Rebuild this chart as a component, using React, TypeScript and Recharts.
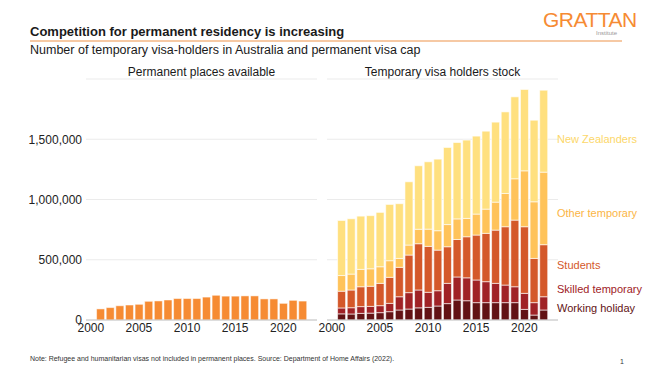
import { BarChart, Bar, XAxis, YAxis, CartesianGrid } from 'recharts';

const years = [
  2001, 2002, 2003, 2004, 2005, 2006, 2007, 2008, 2009, 2010, 2011,
  2012, 2013, 2014, 2015, 2016, 2017, 2018, 2019, 2020, 2021, 2022,
];
const axisYears = [2000, ...years, 2023];

// permanent migration program places
const permanentPlaces = [
  92000, 103000, 118000, 124000, 130000, 155000, 158000, 166000, 178000, 178000, 178000,
  190000, 205000, 198000, 198000, 200000, 200000, 175000, 175000, 138000, 163000, 157000,
];

// temporary visa holders stock, by visa type
const workingHoliday = [
  51000, 50000, 55000, 57000, 61000, 69000, 83000, 91000, 101000, 105000, 116000,
  136000, 166000, 160000, 144000, 144000, 144000, 144000, 144000, 88000, 41000, 83000,
];
const skilledTemporary = [
  49000, 52000, 56000, 56000, 58000, 69000, 110000, 136000, 148000, 125000, 127000,
  168000, 191000, 190000, 188000, 174000, 160000, 146000, 132000, 133000, 103000, 110000,
];
const students = [
  139000, 147000, 165000, 167000, 185000, 216000, 244000, 312000, 384000, 381000, 337000,
  304000, 311000, 341000, 373000, 401000, 442000, 484000, 553000, 553000, 367000, 432000,
];
const otherTemporary = [
  130000, 132000, 144000, 145000, 138000, 138000, 74000, 83000, 120000, 143000, 161000,
  184000, 171000, 152000, 174000, 201000, 232000, 276000, 343000, 464000, 470000, 602000,
];
const newZealanders = [
  457000, 459000, 442000, 441000, 451000, 467000, 454000, 525000, 527000, 559000, 594000,
  640000, 634000, 650000, 647000, 647000, 664000, 677000, 680000, 675000, 677000, 680000,
];

const yTicks = [0, 500000, 1000000, 1500000];

const series = [
  { key: 'wh', name: 'Working holiday', color: '#621214', text: '#621214', values: workingHoliday, labelY: 309 },
  { key: 'sk', name: 'Skilled temporary', color: '#A02226', text: '#A02226', values: skilledTemporary, labelY: 290 },
  { key: 'st', name: 'Students', color: '#D4582A', text: '#D4582A', values: students, labelY: 266 },
  { key: 'ot', name: 'Other temporary', color: '#FFC35A', text: '#FBB545', values: otherTemporary, labelY: 214 },
  { key: 'nz', name: 'New Zealanders', color: '#FFE07F', text: '#FCD769', values: newZealanders, labelY: 140 },
];

const rows = axisYears.map((year) => {
  const i = years.indexOf(year);
  const row: Record<string, number | null> = {
    year,
    permanent: i < 0 ? null : permanentPlaces[i],
  };
  series.forEach((s) => {
    row[s.key] = i < 0 ? null : s.values[i];
  });
  return row;
});

const font = '"Liberation Sans", Arial, sans-serif';
const tickStyle = { fontSize: 12, fill: '#222', fontFamily: font };

export default function App() {
  return (
    <div style={{ position: 'absolute', left: 0, top: 0, width: 660, height: 375, background: '#fff', fontFamily: font, overflow: 'hidden' }}>
      <div style={{ position: 'absolute', left: 30, top: 24, fontSize: 13, fontWeight: 700, color: '#1a1a1a' }}>
        Competition for permanent residency is increasing
      </div>
      <div style={{ position: 'absolute', left: 543, top: 8, fontSize: 21, color: '#F68B33', letterSpacing: -0.5 }}>GRATTAN</div>
      <div style={{ position: 'absolute', left: 596, top: 30, fontSize: 6, color: '#999' }}>Institute</div>
      <div style={{ position: 'absolute', left: 30, top: 40, width: 592, height: 2, background: '#F6C9A4' }} />
      <div style={{ position: 'absolute', left: 30, top: 43, fontSize: 12.5, color: '#1a1a1a' }}>
        Number of temporary visa-holders in Australia and permanent visa cap
      </div>
      <div style={{ position: 'absolute', left: 86, width: 231, top: 65, fontSize: 12, color: '#1a1a1a', textAlign: 'center' }}>
        Permanent places available
      </div>
      <div style={{ position: 'absolute', left: 327, width: 231, top: 65, fontSize: 12, color: '#1a1a1a', textAlign: 'center' }}>
        Temporary visa holders stock
      </div>

      <div style={{ position: 'absolute', left: 0, top: 0 }}>
        <BarChart width={330} height={375} data={rows} margin={{ top: 79, right: 13, bottom: 25, left: 0 }} barCategoryGap="10%">
          <CartesianGrid vertical={false} stroke="#ebebeb" />
          <XAxis dataKey="year" height={30} interval={4} tickLine={false} tickSize={2} tickMargin={1} stroke="#c4c4c4" tick={tickStyle} />
          <YAxis width={86} domain={[0, 2000000]} ticks={yTicks} axisLine={false} tickLine={false} tickSize={2} tickMargin={2}
            tick={tickStyle} tickFormatter={(v: number) => v.toLocaleString('en-US')} />
          <Bar dataKey="permanent" fill="#F68B33" stroke="#fff" strokeWidth={0.5} isAnimationActive={false} />
        </BarChart>
      </div>

      <div style={{ position: 'absolute', left: 300, top: 0 }}>
        <BarChart width={360} height={375} data={rows} margin={{ top: 79, right: 102, bottom: 25, left: 27 }} barCategoryGap="10%">
          <CartesianGrid vertical={false} stroke="#ebebeb" />
          <XAxis dataKey="year" height={30} interval={4} tickLine={false} tickSize={2} tickMargin={1} stroke="#c4c4c4" tick={tickStyle} />
          <YAxis hide domain={[0, 2000000]} ticks={yTicks} />
          {series.map((s) => (
            <Bar key={s.key} dataKey={s.key} stackId="t" fill={s.color} stroke="#fff" strokeWidth={0.6} isAnimationActive={false} />
          ))}
        </BarChart>
      </div>

      {series.map((s) => (
        <div key={s.key} style={{ position: 'absolute', left: 557, top: s.labelY - 7, fontSize: 11, color: s.text }}>
          {s.name}
        </div>
      ))}

      <div style={{ position: 'absolute', left: 30, top: 355, fontSize: 7, color: '#333' }}>
        Note: Refugee and humanitarian visas not included in permanent places. Source: Department of Home Affairs (2022).
      </div>
      <div style={{ position: 'absolute', left: 620, top: 358, fontSize: 7, color: '#333' }}>1</div>
    </div>
  );
}
